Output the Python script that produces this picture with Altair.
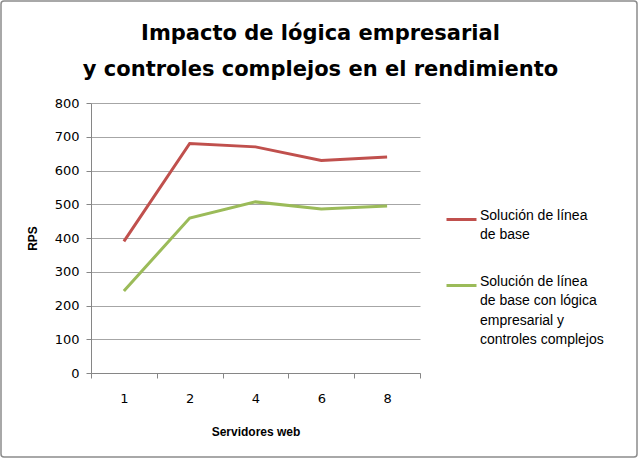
import altair as alt
import pandas as pd

servidores = ["1", "2", "4", "6", "8"]
base = [390, 680, 670, 630, 640]
complejo = [243, 459, 507, 486, 495]
series = ["Solución de línea|de base",
          "Solución de línea|de base con lógica|empresarial y|controles complejos"]
colors = ["#C0504D", "#9BBB59"]
y_ticks = [0, 100, 200, 300, 400, 500, 600, 700, 800]

rows = []
for s, vals in zip(series, [base, complejo]):
    for x, v in zip(servidores, vals):
        rows.append({"Servidores web": x, "RPS": v, "serie": s})
df = pd.DataFrame(rows)

lines = alt.Chart(df).mark_line(strokeWidth=3).encode(
    x=alt.X("Servidores web:O", sort=servidores,
            scale=alt.Scale(type="band", paddingInner=0, paddingOuter=0),
            axis=alt.Axis(tickBand="extent", labelAngle=0, grid=False,
                          labelPadding=14, titlePadding=21)),
    y=alt.Y("RPS:Q", scale=alt.Scale(domain=[0, 800]),
            axis=alt.Axis(values=y_ticks, grid=True, labelPadding=7, titlePadding=15)),
    color=alt.Color("serie:N", sort=series,
                    scale=alt.Scale(domain=series, range=colors),
                    legend=alt.Legend(title=None, orient="none", legendX=354, legendY=100,
                                      symbolType="stroke", symbolSize=900, symbolStrokeWidth=3,
                                      labelExpr="split(datum.label, '|')",
                                      labelBaseline="alphabetic", labelOffset=2,
                                      labelFont="Liberation Sans", labelFontSize=14,
                                      labelColor="#000000", labelLimit=0, rowPadding=27,
                                      padding=0)),
)

frame = alt.Chart(pd.DataFrame({"a": [0]})).mark_rect(
    fill=None, stroke="#8c8c8c", strokeWidth=1.5, cornerRadius=3
).encode(x=alt.value(-90), x2=alt.value(546), y=alt.value(-102), y2=alt.value(354))

chart = alt.layer(frame, lines).properties(
    width=329, height=270,
    autosize=alt.AutoSizeParams(type="none"),
    padding={"left": 91, "top": 103, "right": 220, "bottom": 87},
    background="white",
    title=alt.TitleParams(
        text=["Impacto de lógica empresarial", "y controles complejos en el rendimiento"],
        font="DejaVu Sans", fontSize=21, fontWeight="bold", color="#000000",
        lineHeight=36, anchor="middle", frame="group", dx=65, offset=-80),
).configure_view(stroke=None).configure_axis(
    domainColor="#868686", tickColor="#868686", gridColor="#a6a6a6",
    tickSize=5, labelFont="DejaVu Sans", labelFontSize=13, labelColor="#000000",
    titleFont="Liberation Sans", titleFontSize=12, titleFontWeight="bold", titleColor="#000000",
)
chart.config.style = {"guide-label": {"lineHeight": 19.5}}

chart.save("out.html", embed_options={"renderer": "svg", "actions": False})
